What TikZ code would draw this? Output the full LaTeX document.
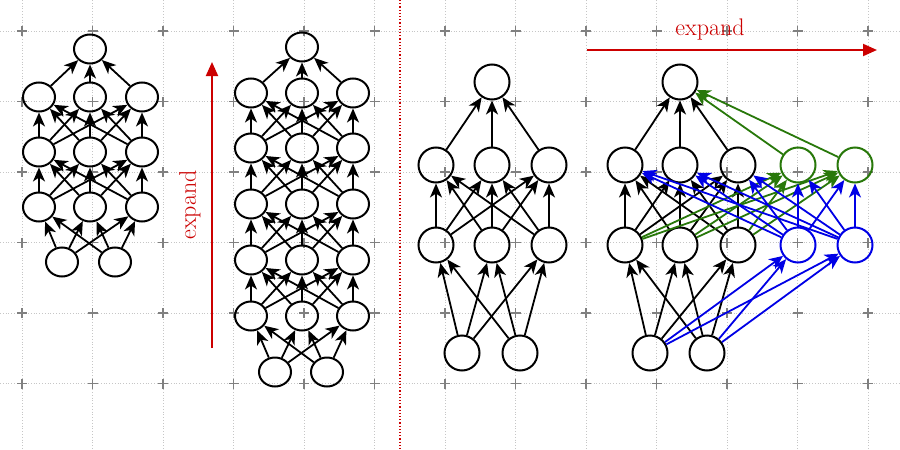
\documentclass[tikz,border=0pt]{standalone}
\usetikzlibrary{arrows.meta,shapes.geometric}
\definecolor{xred}{RGB}{204,0,0}
\definecolor{xgreen}{RGB}{40,120,10}
\definecolor{xblue}{RGB}{0,0,230}
\begin{document}
\begin{tikzpicture}[x=1pt,y=-1pt,
  neu/.style={draw,line width=2pt,ellipse,minimum width=32pt,minimum height=29pt,inner sep=0pt},
  big/.style={draw,line width=2pt,circle,minimum size=35pt,inner sep=0pt},
  con/.style={line width=1.8pt,-{Stealth[length=14pt,width=12pt,inset=4pt]}},
  gridl/.style={gray!45,dotted,line width=0.8pt},
  plusm/.style={gray,line width=1.2pt},
  lbl/.style={xred,font=\fontsize{24}{28}\selectfont}]
\fill[white] (0,0) rectangle (900,450);
\useasboundingbox (0,0) rectangle (900,450);
\foreach \i in {0,...,12}{\draw[gridl] (22+70.5*\i,0) -- (22+70.5*\i,450);}
\foreach \j in {0,...,6}{\draw[gridl] (0,31+70.5*\j) -- (900,31+70.5*\j);}
\foreach \i in {0,...,12}{\foreach \j in {0,...,5}{
  \draw[plusm] (22+70.5*\i-5,31+70.5*\j) -- (22+70.5*\i+5,31+70.5*\j) (22+70.5*\i,31+70.5*\j-5) -- (22+70.5*\i,31+70.5*\j+5);}}
\draw[xred,dotted,line width=1.2pt] (400,0) -- (400,450);
% network 1
\node[neu] (at) at (90,49) {};
\foreach \r/\y in {1/97,2/152,3/207}{\foreach \c/\x in {1/39,2/90,3/142}{\node[neu] (a\r\c) at (\x,\y) {};}}
\node[neu] (ab1) at (62,262) {}; \node[neu] (ab2) at (115,262) {};
\foreach \c in {1,2,3}{\draw[con] (a1\c) -- (at);}
\foreach \r/\s in {2/1,3/2}{\foreach \c in {1,2,3}{\foreach \d in {1,2,3}{\draw[con] (a\r\c) -- (a\s\d);}}}
\foreach \b in {1,2}{\foreach \d in {1,2,3}{\draw[con] (ab\b) -- (a3\d);}}
% network 2
\node[neu] (bt) at (302,47) {};
\foreach \r/\y in {1/93,2/148,3/204,4/260,5/316}{\foreach \c/\x in {1/251,2/302,3/353}{\node[neu] (b\r\c) at (\x,\y) {};}}
\node[neu] (bb1) at (275,372) {}; \node[neu] (bb2) at (327,372) {};
\foreach \c in {1,2,3}{\draw[con] (b1\c) -- (bt);}
\foreach \r/\s in {2/1,3/2,4/3,5/4}{\foreach \c in {1,2,3}{\foreach \d in {1,2,3}{\draw[con] (b\r\c) -- (b\s\d);}}}
\foreach \b in {1,2}{\foreach \d in {1,2,3}{\draw[con] (bb\b) -- (b5\d);}}
\coordinate (e1s) at (212,348); \coordinate (e1e) at (212,62);
\draw[xred,line width=2pt,-{Triangle[length=14pt,width=12pt]}] (e1s) -- (e1e);
\node[lbl,rotate=90] (e1t) at (190,205) {expand};
% network 3
\node[big] (ct) at (492,82) {};
\foreach \r/\y in {1/165,2/245}{\foreach \c/\x in {1/436,2/492,3/549}{\node[big] (c\r\c) at (\x,\y) {};}}
\node[big] (cb1) at (462,353) {}; \node[big] (cb2) at (520,353) {};
\foreach \c in {1,2,3}{\draw[con] (c1\c) -- (ct);}
\foreach \c in {1,2,3}{\foreach \d in {1,2,3}{\draw[con] (c2\c) -- (c1\d);}}
\foreach \b in {1,2}{\foreach \d in {1,2,3}{\draw[con] (cb\b) -- (c2\d);}}
% network 4
\node[big] (dt) at (680,82) {};
\foreach \r/\y in {1/165,2/245}{\foreach \c/\x in {1/625,2/680,3/738}{\node[big] (d\r\c) at (\x,\y) {};}}
\node[big,xgreen] (d14) at (798,165) {}; \node[big,xgreen] (d15) at (855,165) {};
\node[big,xblue] (d24) at (798,245) {}; \node[big,xblue] (d25) at (855,245) {};
\node[big] (db1) at (650,353) {}; \node[big] (db2) at (707,353) {};
\foreach \c in {1,2,3}{\draw[con] (d1\c) -- (dt);}
\foreach \c in {4,5}{\draw[con,xgreen] (d1\c) -- (dt);}
\foreach \c in {1,2,3}{\foreach \d in {1,2,3}{\draw[con] (d2\c) -- (d1\d);}}
\foreach \c in {1,2,3}{\foreach \d in {4,5}{\draw[con,xgreen] (d2\c) -- (d1\d);}}
\foreach \c in {4,5}{\foreach \d in {1,2,3,4,5}{\draw[con,xblue] (d2\c) -- (d1\d);}}
\foreach \b in {1,2}{\foreach \d in {1,2,3}{\draw[con] (db\b) -- (d2\d);}}
\foreach \b in {1,2}{\foreach \d in {4,5}{\draw[con,xblue] (db\b) -- (d2\d);}}
\coordinate (e2s) at (587,50); \coordinate (e2e) at (877,50);
\draw[xred,line width=2pt,-{Triangle[length=14pt,width=12pt]}] (e2s) -- (e2e);
\node[lbl] (e2t) at (710,30) {expand};
\end{tikzpicture}
\end{document}
